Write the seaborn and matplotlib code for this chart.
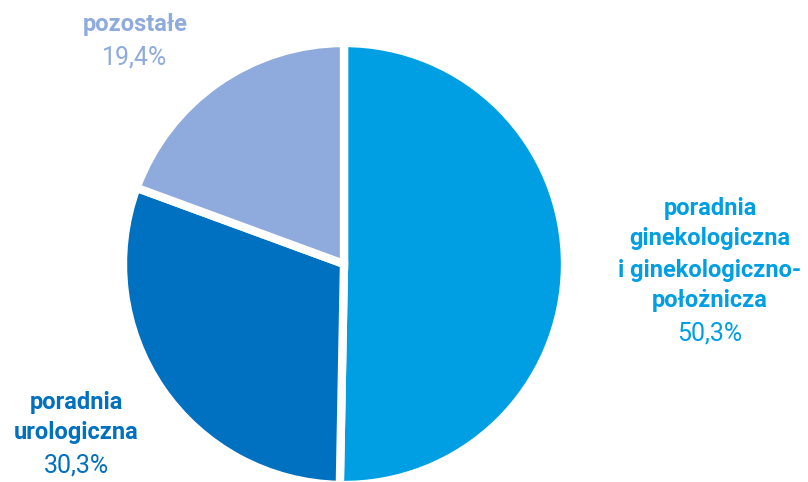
import matplotlib
matplotlib.use("Agg")
import matplotlib.pyplot as plt
import seaborn as sns

# Share of visits by clinic type
categories = ["poradnia\nginekologiczna\ni ginekologiczno-\npołożnicza",
              "poradnia\nurologiczna",
              "pozostałe"]
shares = [50.3, 30.3, 19.4]
colors = ["#009FE3", "#0070C0", "#8FAADC"]

sns.set_theme(style="white")
plt.rcParams["font.family"] = ["Roboto", "DejaVu Sans"]

W, H = 808, 482
fig = plt.figure(figsize=(W / 100, H / 100), dpi=100)
ax = fig.add_axes([0, 0, 1, 1])

# pie in pixel space (y axis inverted, so draw counter-clockwise to get clockwise)
ax.pie(shares, colors=colors, startangle=-90, counterclock=True,
       center=(344, 264), radius=221, frame=True,
       wedgeprops=dict(edgecolor="white", linewidth=6))
ax.set_xlim(0, W)
ax.set_ylim(H, 0)
ax.set_aspect("equal")
ax.axis("off")

# label anchors: (x centre, y of first line)
anchors = [(710, 208), (76, 402), (135, 25)]
pitch = 31
for name, val, col, (x, y0) in zip(categories, shares, colors, anchors):
    lines = name.split("\n")
    for i, line in enumerate(lines):
        ax.text(x, y0 + i * pitch, line, ha="center", va="center",
                fontsize=17, fontweight="bold", color=col)
    pct = f"{val:.1f}".replace(".", ",") + "%"
    ax.text(x, y0 + len(lines) * pitch + 1, pct, ha="center", va="center",
            fontsize=18, fontweight="normal", color=col)

fig.savefig("out.png", dpi=100)
